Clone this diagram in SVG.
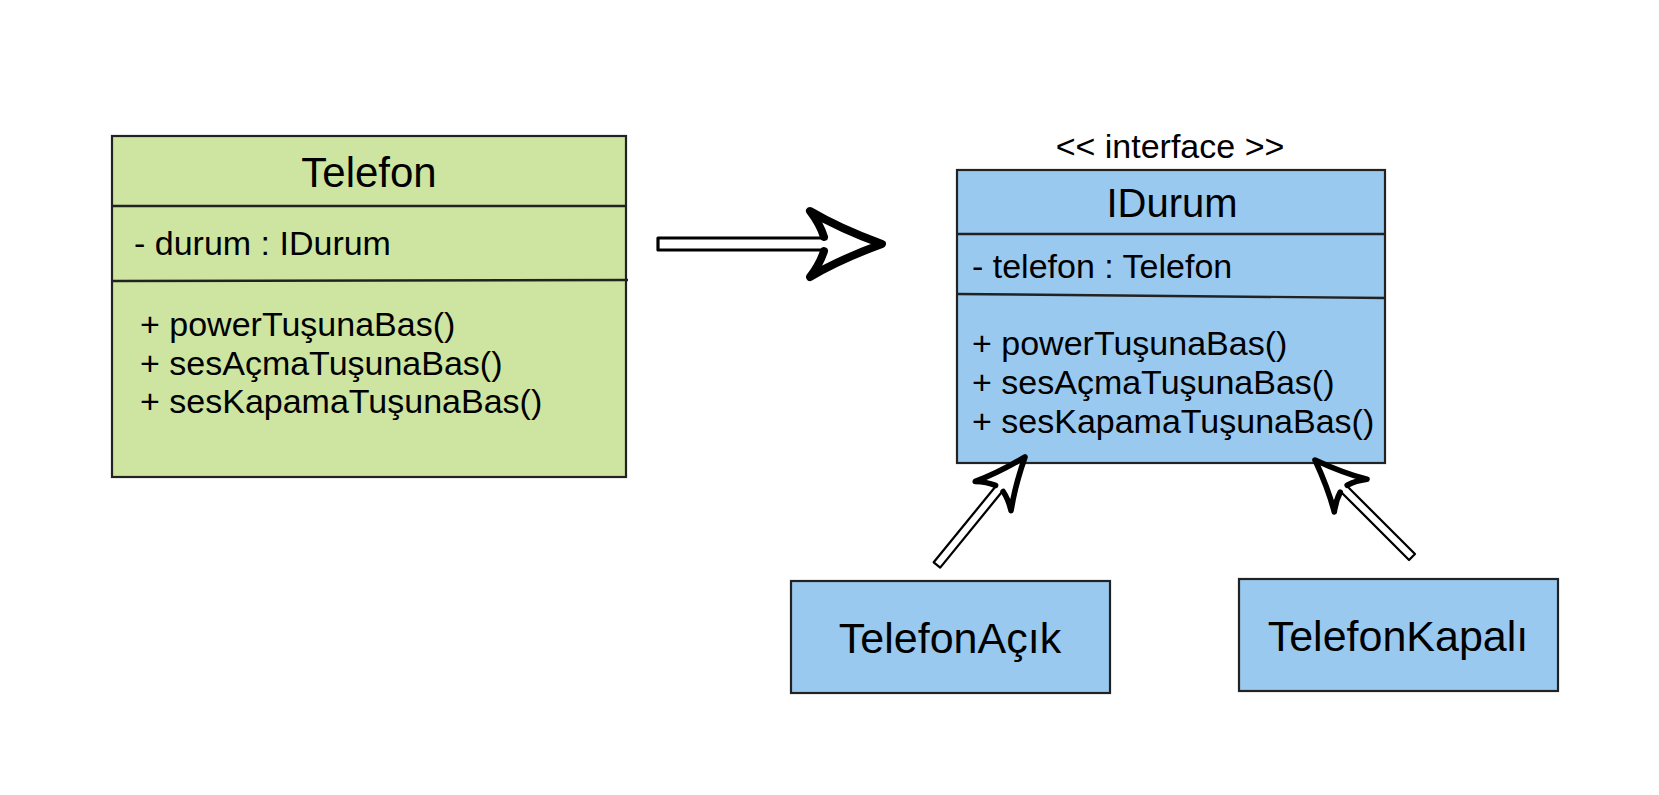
<svg xmlns="http://www.w3.org/2000/svg" width="1659" height="795" viewBox="0 0 1659 795">
<style>
text{font-family:"Liberation Sans",Arial,sans-serif;fill:#000}
.green{fill:#CDE5A0;stroke:#222;stroke-width:2.2}
.blue{fill:#99C9EF;stroke:#222;stroke-width:2.2}
.div{stroke:#222;stroke-width:2.4;fill:none}
.t{font-size:34px}
.title{font-size:42px;text-anchor:middle}
.big{font-size:43px;text-anchor:middle}
.shaft{fill:#fff;stroke:#000;stroke-width:3.2;stroke-linejoin:round}
.head{fill:#fff;stroke:#000;stroke-width:8;stroke-linejoin:round;stroke-linecap:round}
</style>
<defs>
<path id="hd" class="head" d="M -58,-7 Q -62,-20 -72,-33 C -50,-20 -22,-8 0,0 C -22,8 -50,20 -72,33 Q -62,20 -58,7"/>
</defs>
<rect width="1659" height="795" fill="#fff"/>
<g id="telefon">
<rect class="green" x="112" y="136" width="514" height="341"/>
<line class="div" x1="112" y1="206" x2="626" y2="206"/>
<line class="div" x1="112" y1="281" x2="628" y2="280"/>
<text class="title" x="369" y="187">Telefon</text>
<text class="t" x="134" y="255">- durum : IDurum</text>
<text class="t" x="140" y="336">+ powerTuşunaBas()</text>
<text class="t" x="140" y="375">+ sesAçmaTuşunaBas()</text>
<text class="t" x="140" y="413">+ sesKapamaTuşunaBas()</text>
</g>
<g id="idurum">
<text class="t" x="1170" y="158" text-anchor="middle">&lt;&lt; interface &gt;&gt;</text>
<rect class="blue" x="957" y="170" width="428" height="293"/>
<line class="div" x1="957" y1="234" x2="1385" y2="234"/>
<line class="div" x1="957" y1="294" x2="1386" y2="298"/>
<text class="title" x="1172" y="217" style="font-size:40px">IDurum</text>
<text class="t" x="972" y="278">- telefon : Telefon</text>
<text class="t" x="972" y="355">+ powerTuşunaBas()</text>
<text class="t" x="972" y="394">+ sesAçmaTuşunaBas()</text>
<text class="t" x="972" y="433">+ sesKapamaTuşunaBas()</text>
</g>
<g id="telefonacik">
<rect class="blue" x="791" y="581" width="319" height="112"/>
<text class="big" x="950" y="653">TelefonAçık</text>
</g>
<g id="telefonkapali">
<rect class="blue" x="1239" y="579" width="319" height="112"/>
<text class="big" x="1398" y="651">TelefonKapalı</text>
</g>
<g id="connectors">
<g transform="translate(882,244)">
<path class="shaft" d="M -56,-6 L -224,-6 L -224,6 L -56,6"/>
<use href="#hd"/>
</g>
<g transform="translate(1025,457) rotate(-50.8) scale(0.7)">
<path class="shaft" d="M -56,-6 L -199,-6 L -199,6 L -56,6"/>
<use href="#hd"/>
</g>
<g transform="translate(1315,460) rotate(-135) scale(0.7)">
<path class="shaft" d="M -56,-6 L -196,-6 L -196,6 L -56,6"/>
<use href="#hd"/>
</g>
</g>
</svg>
